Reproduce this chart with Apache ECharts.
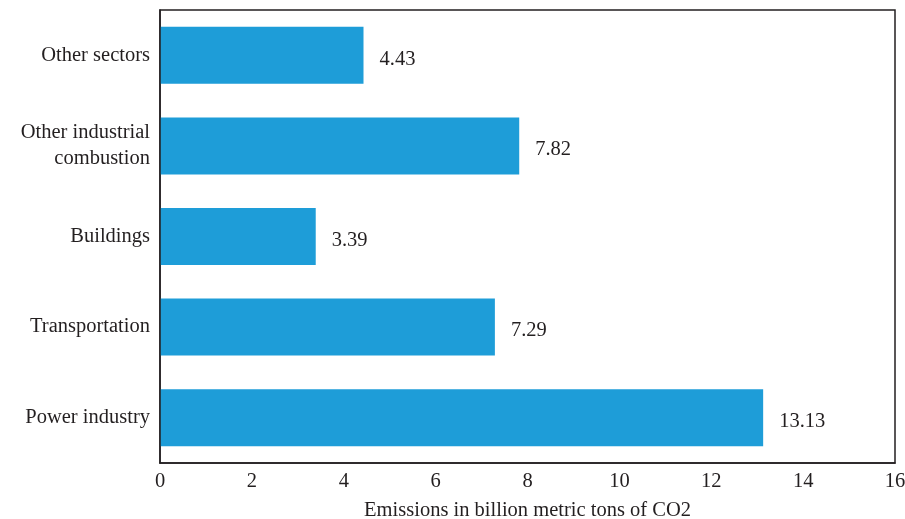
<!DOCTYPE html>
<html>
<head>
<meta charset="utf-8">
<script src="https://cdn.jsdelivr.net/npm/echarts@6/dist/echarts.min.js"></script>
<style>
  html, body { margin: 0; padding: 0; background: #fff; }
  #chart { width: 905px; height: 519px; }
</style>
</head>
<body>
<div id="chart"></div>
<script>
// Emission sectors, listed bottom to top
const sectors = ['Power industry', 'Transportation', 'Buildings', 'Other industrial\ncombustion', 'Other sectors'];
const emissions = [13.13, 7.29, 3.39, 7.82, 4.43];
const xTicks = [0, 2, 4, 6, 8, 10, 12, 14, 16];

const serif = '"Liberation Serif", "DejaVu Serif", serif';
const ink = '#231f20';
const fs = 20.5;

const chart = echarts.init(document.getElementById('chart'), null, { renderer: 'canvas' });
chart.setOption({
  animation: false,
  grid: { left: 160, right: 10, top: 10, bottom: 56, containLabel: false, outerBoundsMode: 'none' },
  xAxis: {
    type: 'value',
    min: xTicks[0],
    max: xTicks[xTicks.length - 1],
    interval: 2,
    name: 'Emissions in billion metric tons of CO2',
    nameLocation: 'middle',
    nameGap: 37,
    nameTextStyle: { fontFamily: serif, fontSize: fs, color: ink },
    axisLine: { show: true, lineStyle: { color: ink, width: 1.5 } },
    axisTick: { show: false },
    splitLine: { show: false },
    axisLabel: { fontFamily: serif, fontSize: fs, color: ink, margin: 8 }
  },
  yAxis: {
    type: 'category',
    data: sectors,
    axisLine: { show: true, lineStyle: { color: ink, width: 1.5 } },
    axisTick: { show: false },
    axisLabel: { fontFamily: serif, fontSize: fs, color: ink, margin: 10, lineHeight: 26, align: 'right' }
  },
  series: [{
    type: 'bar',
    data: emissions,
    barWidth: 57,
    itemStyle: { color: '#1e9dd8' },
    label: {
      show: true,
      position: 'right',
      distance: 16,
      fontFamily: serif,
      fontSize: fs,
      color: ink,
      offset: [0, 4],
      formatter: p => p.value.toFixed(2)
    }
  }]
});

// Box the plot area using the axis extents
const x0 = chart.convertToPixel({ xAxisIndex: 0 }, xTicks[0]);
const x1 = chart.convertToPixel({ xAxisIndex: 0 }, xTicks[xTicks.length - 1]);
const rect = chart.getModel().getComponent('grid').coordinateSystem.getRect();
chart.setOption({
  graphic: [{
    type: 'rect',
    shape: { x: x0, y: rect.y, width: x1 - x0, height: rect.height },
    style: { fill: 'none', stroke: ink, lineWidth: 1.5 },
    silent: true,
    z: 10
  }]
});
</script>
</body>
</html>
